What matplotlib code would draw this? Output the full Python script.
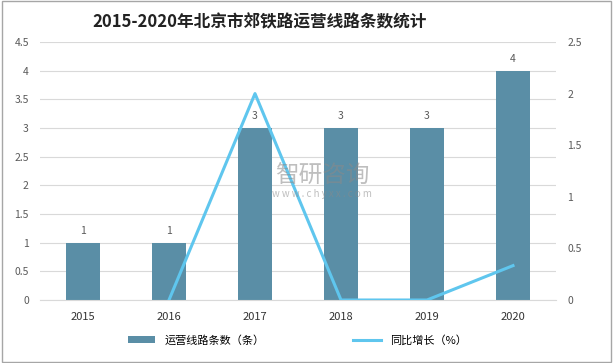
import numpy as np
import matplotlib.pyplot as plt
from matplotlib.patches import Rectangle

plt.rcParams['font.family'] = ['Noto Sans CJK SC', 'DejaVu Sans']

## Data
years = ["2015", "2016", "2017", "2018", "2019", "2020"]
lines_count = [1, 1, 3, 3, 3, 4]
growth_years = ["2016", "2017", "2018", "2019", "2020"]
growth = [0, 2, 0, 0, 0.333]

bar_color = "#5a8ea6"
line_color = "#5fc6ee"
tick_color = "#595959"

fig = plt.figure(figsize=(6.13, 3.63), dpi=100)
ax = fig.add_axes([40 / 613, 1 - 300 / 363, 516 / 613, 258 / 363])

x = np.arange(len(years))
ax.bar(x, lines_count, width=0.4, color=bar_color, zorder=2, label="运营线路条数（条）")
for xi, v in zip(x, lines_count):
    ax.text(xi, v + 0.12, str(v), ha="center", va="bottom", fontsize=7.5, color=tick_color)

ax.set_xlim(-0.5, len(years) - 0.5)
ax.set_ylim(0, 4.5)
ax.set_yticks(np.arange(0, 4.51, 0.5))
ax.set_yticklabels(["0", "0.5", "1", "1.5", "2", "2.5", "3", "3.5", "4", "4.5"])
ax.set_xticks(x)
ax.set_xticklabels(years, fontsize=8, color="#333333")
ax.tick_params(axis="y", labelsize=7.5, labelcolor=tick_color, length=0, pad=8)
ax.tick_params(axis="x", length=0, pad=9)
ax.grid(axis="y", color="#d9d9d9", linewidth=0.8, zorder=0)
for s in ["top", "left", "right"]:
    ax.spines[s].set_visible(False)
ax.spines["bottom"].set_color("#d9d9d9")

ax2 = ax.twinx()
gx = [years.index(y) for y in growth_years]
ax2.plot(gx, growth, color=line_color, linewidth=2.2, zorder=3, label="同比增长（%）")
ax2.set_ylim(0, 2.5)
ax2.set_yticks(np.arange(0, 2.51, 0.5))
ax2.set_yticklabels(["0", "0.5", "1", "1.5", "2", "2.5"])
ax2.tick_params(axis="y", labelsize=7.5, labelcolor=tick_color, length=0, pad=8)
for s in ["top", "left", "right", "bottom"]:
    ax2.spines[s].set_visible(False)

# watermark
fig.text(0.525, 1 - 176 / 363, "智研咨询", fontsize=17, color="#8a8a8a", alpha=0.55, ha="center", va="center")
fig.text(0.525, 1 - 194 / 363, "w w w . c h y x x . c o m", fontsize=7, color="#8a8a8a", alpha=0.55,
         ha="center", va="center")

fig.text(260 / 613, 1 - 22 / 363, "2015-2020年北京市郊铁路运营线路条数统计", ha="center", va="center",
         fontsize=12, fontweight="bold", color="#222222")

h1, l1 = ax.get_legend_handles_labels()
h2, l2 = ax2.get_legend_handles_labels()
fig.legend(h1 + h2, l1 + l2, loc="center", bbox_to_anchor=(0.485, 1 - 340 / 363), ncol=2,
           frameon=False, fontsize=8, columnspacing=8, handlelength=2.5, handleheight=0.6)

fig.patches.append(Rectangle((0.004, 0.004), 0.992, 0.992, transform=fig.transFigure,
                             fill=False, edgecolor="#a6a6a6", linewidth=1))

fig.savefig("out.png", dpi=100)
